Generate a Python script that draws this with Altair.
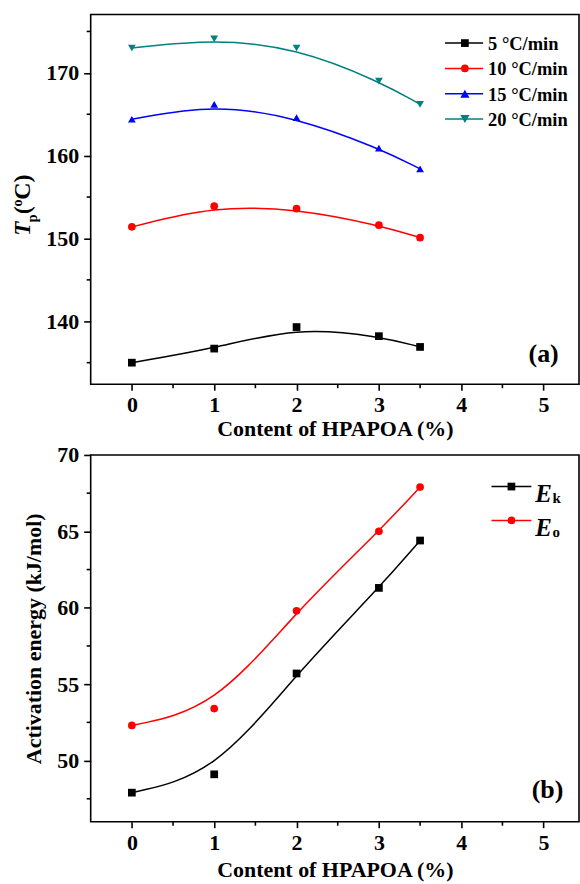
import altair as alt
import pandas as pd

FONT = "Liberation Serif"

# ---------------- data ----------------
content = [0, 1, 2, 3, 3.5]
rate_labels = ["5 °C/min", "10 °C/min", "15 °C/min", "20 °C/min"]
tp_5 = [135.0, 136.7, 139.3, 138.2, 136.9]
tp_10 = [151.4, 153.9, 153.6, 151.6, 150.1]
tp_15 = [164.4, 166.2, 164.6, 160.9, 158.4]
tp_20 = [173.0, 174.1, 173.0, 169.0, 166.2]

energy_labels = ["Ek", "Eo"]
e_k = [47.9, 49.1, 55.7, 61.3, 64.4]
e_o = [52.3, 53.4, 59.8, 65.0, 67.9]

x_ticks = [0, 1, 2, 3, 4, 5]
x_minor = [0.5, 1.5, 2.5, 3.5, 4.5]
y1_ticks = [140, 150, 160, 170]
y1_minor = [135, 145, 155, 165, 175]
y2_ticks = [50, 55, 60, 65, 70]
y2_minor = [47.5, 52.5, 57.5, 62.5, 67.5]

# ---------------- styles ----------------
top_colors = ["#000000", "#FF0000", "#0000FF", "#008080"]
top_shapes = ["square", "circle", "triangle-up", "triangle-down"]
top_sizes = [60, 60, 85, 85]
bot_colors = ["#000000", "#FF0000"]
bot_shapes = ["square", "circle"]

LEFT = 89.5
W1, H1 = 490, 371
W2, H2 = 490, 368
LW = 1.6
FS = 22


def axis_common(**kw):
    base = dict(domain=False, grid=False, ticks=True, tickColor="black", tickWidth=LW,
                labelFont=FONT, labelFontWeight="bold", labelFontSize=FS, labelColor="black",
                titleFont=FONT, titleFontWeight="bold", titleFontSize=FS, titleColor="black",
                labelFlush=False, format="d")
    base.update(kw)
    return alt.Axis(**base)


def one(label=""):
    return pd.DataFrame({"label": [label]})


# ================= top panel =================
df_top = pd.DataFrame({
    "content": content * 4,
    "tp": tp_5 + tp_10 + tp_15 + tp_20,
    "rate": sum([[r] * len(content) for r in rate_labels], []),
})

xs1 = alt.Scale(domain=[-0.5, 5.43], nice=False, zero=False)
ys1 = alt.Scale(domain=[132.4, 177.05], nice=False, zero=False)
color1 = alt.Color("rate:N", scale=alt.Scale(domain=rate_labels, range=top_colors), legend=None)
shape1 = alt.Shape("rate:N", scale=alt.Scale(domain=rate_labels, range=top_shapes), legend=None)
size1 = alt.Size("rate:N", scale=alt.Scale(domain=rate_labels, range=top_sizes), legend=None)

fit1 = alt.Chart(df_top).mark_line(strokeWidth=1.5, interpolate="basis").encode(
    x=alt.X("content:Q", scale=xs1,
            axis=axis_common(values=x_ticks, title="Content of HPAPOA (%)",
                             tickSize=6, labelPadding=4, titlePadding=3)),
    y=alt.Y("tp:Q", scale=ys1,
            axis=axis_common(values=y1_ticks, title=None, tickSize=7, labelPadding=5)),
    color=color1,
)
pts1 = alt.Chart(df_top).mark_point(filled=True, opacity=1).encode(
    x="content:Q", y="tp:Q", color=color1, shape=shape1, size=size1
)
mty1 = alt.Chart(pd.DataFrame({"tp": y1_minor})).mark_rule(color="black", strokeWidth=LW).encode(
    y="tp:Q", x=alt.value(0), x2=alt.value(-4)
)
mtx1 = alt.Chart(pd.DataFrame({"content": x_minor})).mark_rule(color="black", strokeWidth=LW).encode(
    x="content:Q", y=alt.value(H1), y2=alt.value(H1 + 4)
)

top_layers = [fit1, pts1, mty1, mtx1]

# legend (top)
for i, (lab, col, shp, sz) in enumerate(zip(rate_labels, top_colors, top_shapes, top_sizes)):
    yy = 28.7 + 25.4 * i
    top_layers.append(alt.Chart(one(lab)).mark_rule(color=col, strokeWidth=1.5).encode(
        x=alt.value(355.5), x2=alt.value(393.8), y=alt.value(yy)))
    top_layers.append(alt.Chart(one(lab)).mark_point(shape=shp, filled=True, opacity=1, size=sz, color=col).encode(
        x=alt.value(375.5), y=alt.value(yy)))
    top_layers.append(alt.Chart(one(lab)).mark_text(
        align="left", baseline="middle", font=FONT, fontWeight="bold", fontSize=18.5, color="black").encode(
        x=alt.value(398.8), y=alt.value(yy + 1), text="label:N"))

# panel label
top_layers.append(alt.Chart(one("(a)")).mark_text(
    align="center", baseline="alphabetic", font=FONT, fontWeight="bold", fontSize=26, color="black").encode(
    x=alt.value(454.5), y=alt.value(348.7), text="label:N"))

# y title: T_p (oC), rotated pieces
title_pieces = [
    ("T", -61.2, 222, 23, "italic"),
    ("p", -54.2, 208.5, 14, "normal"),
    ("(", -61.2, 200.3, 23, "normal"),
    ("o", -69, 192.6, 14, "normal"),
    ("C)", -61.2, 186, 24, "normal"),
]
for txt, xx, yy, fs, st in title_pieces:
    top_layers.append(alt.Chart(one(txt)).mark_text(
        align="left", baseline="alphabetic", angle=270, font=FONT, fontWeight="bold",
        fontStyle=st, fontSize=fs, color="black").encode(
        x=alt.value(xx), y=alt.value(yy), text="label:N"))

# bounds anchor (white, invisible)
top_layers.append(alt.Chart(one()).mark_rule(color="white", strokeWidth=1).encode(
    x=alt.value(-LEFT), x2=alt.value(-LEFT + 0.5), y=alt.value(150), y2=alt.value(151)))

top = alt.layer(*top_layers).properties(width=W1, height=H1)

# ================= bottom panel =================
df_bot = pd.DataFrame({
    "content": content * 2,
    "energy": e_k + e_o,
    "kind": sum([[k] * len(content) for k in energy_labels], []),
})
xs2 = alt.Scale(domain=[-0.5, 5.43], nice=False, zero=False)
ys2 = alt.Scale(domain=[46, 70], nice=False, zero=False)
color2 = alt.Color("kind:N", scale=alt.Scale(domain=energy_labels, range=bot_colors), legend=None)
shape2 = alt.Shape("kind:N", scale=alt.Scale(domain=energy_labels, range=bot_shapes), legend=None)

fit2 = alt.Chart(df_bot).mark_line(strokeWidth=1.5, interpolate="basis").encode(
    x=alt.X("content:Q", scale=xs2,
            axis=axis_common(values=x_ticks, title="Content of HPAPOA (%)",
                             tickSize=6, labelPadding=5, titlePadding=6)),
    y=alt.Y("energy:Q", scale=ys2,
            axis=axis_common(values=y2_ticks, title="Activation energy (kJ/mol)",
                             tickSize=7, labelPadding=5, titlePadding=11)),
    color=color2,
)
pts2 = alt.Chart(df_bot).mark_point(filled=True, opacity=1, size=60).encode(
    x="content:Q", y="energy:Q", color=color2, shape=shape2
)
mty2 = alt.Chart(pd.DataFrame({"energy": y2_minor})).mark_rule(color="black", strokeWidth=LW).encode(
    y="energy:Q", x=alt.value(0), x2=alt.value(-4)
)
mtx2 = alt.Chart(pd.DataFrame({"content": x_minor})).mark_rule(color="black", strokeWidth=LW).encode(
    x="content:Q", y=alt.value(H2), y2=alt.value(H2 + 4)
)
bot_layers = [fit2, pts2, mty2, mtx2]

subs = ["k", "o"]
for i, (lab, col, shp, sub) in enumerate(zip(energy_labels, bot_colors, bot_shapes, subs)):
    yy = 31.7 + 34 * i
    bot_layers.append(alt.Chart(one(lab)).mark_rule(color=col, strokeWidth=1.5).encode(
        x=alt.value(402.2), x2=alt.value(442.2), y=alt.value(yy)))
    bot_layers.append(alt.Chart(one(lab)).mark_point(shape=shp, filled=True, opacity=1, size=60, color=col).encode(
        x=alt.value(422.2), y=alt.value(yy)))
    bot_layers.append(alt.Chart(one("E")).mark_text(
        align="left", baseline="alphabetic", font=FONT, fontWeight="bold", fontStyle="italic",
        fontSize=25, color="black").encode(
        x=alt.value(446.2), y=alt.value(yy + 15.6), text="label:N"))
    bot_layers.append(alt.Chart(one(sub)).mark_text(
        align="left", baseline="alphabetic", font=FONT, fontWeight="bold",
        fontSize=15, color="black").encode(
        x=alt.value(463.5), y=alt.value(yy + 16.5), text="label:N"))

bot_layers.append(alt.Chart(one("(b)")).mark_text(
    align="center", baseline="alphabetic", font=FONT, fontWeight="bold", fontSize=26, color="black").encode(
    x=alt.value(458.4), y=alt.value(344), text="label:N"))

bot_layers.append(alt.Chart(one()).mark_rule(color="white", strokeWidth=1).encode(
    x=alt.value(-LEFT), x2=alt.value(-LEFT + 0.5), y=alt.value(150), y2=alt.value(151)))

bottom = alt.layer(*bot_layers).properties(width=W2, height=H2)

chart = alt.vconcat(top, bottom, spacing=3).properties(
    padding={"left": 0, "top": 12, "right": 0, "bottom": 0},
    background="white",
).configure_view(stroke="black", strokeWidth=LW)

chart.save("out.html", embed_options={"renderer": "svg", "actions": False})
